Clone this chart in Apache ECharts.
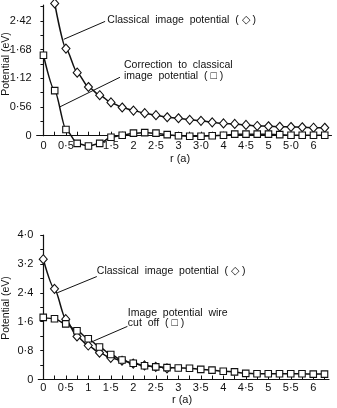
<!DOCTYPE html>
<html>
<head>
<meta charset="utf-8">
<script src="https://cdn.jsdelivr.net/npm/echarts@6/dist/echarts.min.js"></script>
<style>
html,body{margin:0;padding:0;background:#fff;}
#c{width:337px;height:408px;}
</style>
</head>
<body>
<div id="c"></div>
<script>
// ---- data (r in units of a, potential in eV) ----
var rTop = [0,0.25,0.5,0.75,1,1.25,1.5,1.75,2,2.25,2.5,2.75,3,3.25,3.5,3.75,4,4.25,4.5,4.75,5,5.25,5.5,5.75,6,6.25];
var topClassicalR = [0.25,0.5,0.75,1,1.25,1.5,1.75,2,2.25,2.5,2.75,3,3.25,3.5,3.75,4,4.25,4.5,4.75,5,5.25,5.5,5.75,6,6.25];
var topClassical = [2.58,1.70,1.23,0.95,0.79,0.65,0.55,0.49,0.44,0.40,0.36,0.34,0.31,0.29,0.26,0.24,0.23,0.21,0.19,0.185,0.175,0.17,0.165,0.156,0.155];
var topCorrection = [1.57,0.88,0.12,-0.15,-0.20,-0.15,-0.03,0.01,0.05,0.06,0.05,0.02,0.00,-0.01,-0.01,0.00,0.01,0.03,0.03,0.03,0.03,0.02,0.01,0.01,0.01,0.01];

var botClassicalR = [0,0.25,0.5,0.75,1,1.25,1.5,1.75,2,2.25,2.5,2.75];
var botClassical = [3.33,2.51,1.67,1.19,0.94,0.74,0.60,0.52,0.44,0.39,0.35,0.31];
var botCutoffR = rTop;
var botCutoff = [1.72,1.68,1.54,1.35,1.13,0.90,0.69,0.54,0.45,0.38,0.35,0.33,0.32,0.31,0.28,0.26,0.23,0.21,0.17,0.16,0.16,0.16,0.16,0.16,0.15,0.15];

// tick labels (as printed in the original figure)
var topXTickValues = [0,0.5,1.5,2,2.5,3,3.5,4,4.5,5,5.5,6];
var topXTickText   = ['0','0·5','1·5','2','2·5','3','3·0','4','4·5','5','5·0','6'];
var botXTickValues = [0,0.5,1,1.5,2,2.5,3,3.5,4,4.5,5,5.5,6];
var botXTickText   = ['0','0·5','1','1·5','2','2·5','3','3·5','4','4·5','5','5·5','6'];
var topYTickValues = [0,0.56,1.12,1.68,2.24];
var topYTickText   = ['0','0·56','1·12','1·68','2·42'];
var botYTickValues = [0,0.8,1.6,2.4,3.2,4.0];
var botYTickText   = ['0','0·8','1·6','2·4','3·2','4·0'];
var xMinorTicks = rTop;
var topYMinorTicks = [0,0.28,0.56,0.84,1.12,1.40,1.68,1.96,2.24,2.52];
var botYMinorTicks = [0,0.4,0.8,1.2,1.6,2.0,2.4,2.8,3.2,3.6,4.0];

var xTitle = 'r (a)';
var yTitle = 'Potential (eV)';
var ann = {
  topClassical: ['Classical  image  potential  ( ◇ )'],
  topCorrection: ['Correction  to  classical', 'image  potential  ( □ )'],
  botClassical: ['Classical  image  potential  ( ◇ )'],
  botCutoff: ['Image  potential  wire', 'cut  off  ( □ )']
};

function pairs(xs, ys){ return xs.map(function(x,i){ return [x, ys[i]]; }); }
function lookup(vals, texts){ return function(v){ for (var i=0;i<vals.length;i++){ if (Math.abs(vals[i]-v)<1e-6) return texts[i]; } return ''; }; }

var FONT = 'Liberation Sans';
var INK = '#111';

function xAxisCfg(grid, min, max, vals, texts, margin){
  return {
    type:'value', gridIndex:grid, min:min, max:max,
    axisLine:{show:true, onZero:false, lineStyle:{color:INK, width:1.2}},
    axisTick:{show:true, inside:true, length:4, customValues:xMinorTicks, lineStyle:{color:INK, width:1}},
    axisLabel:{show:true, customValues:vals, formatter:lookup(vals,texts), color:INK, fontSize:11, fontFamily:FONT, margin:margin},
    splitLine:{show:false}
  };
}
function yAxisCfg(grid, min, max, vals, texts, minor){
  return {
    type:'value', gridIndex:grid, min:min, max:max,
    axisLine:{show:true, lineStyle:{color:INK, width:1.2}},
    axisTick:{show:true, inside:false, length:3, customValues:minor, lineStyle:{color:INK, width:1}},
    axisLabel:{show:true, customValues:vals, formatter:lookup(vals,texts), color:INK, fontSize:11, fontFamily:FONT, margin:5},
    splitLine:{show:false}
  };
}
function lineSeries(xi, data, sym, size){
  return {
    type:'line', xAxisIndex:xi, yAxisIndex:xi, data:data, clip:false,
    smooth:0.25, smoothMonotone:'x',
    symbol:sym, symbolSize:size, showSymbol:true,
    lineStyle:{color:INK, width:1.5},
    itemStyle:{color:'#fff', borderColor:INK, borderWidth:1.1},
    emphasis:{disabled:true}, animation:false
  };
}

var chart = echarts.init(document.getElementById('c'), null, {renderer:'canvas'});
chart.setOption({
  animation:false,
  backgroundColor:'#fff',
  grid:[
    {left:36.7, right:5.5, top:5, bottom:272.3},
    {left:38.3, right:8, top:235, bottom:28.5}
  ],
  xAxis:[
    xAxisCfg(0, -0.15, 6.4, topXTickValues, topXTickText, 5),
    xAxisCfg(1, -0.11, 6.35, botXTickValues, botXTickText, 3)
  ],
  yAxis:[
    yAxisCfg(0, 0, 2.55, topYTickValues, topYTickText, topYMinorTicks),
    yAxisCfg(1, 0, 4.0, botYTickValues, botYTickText, botYMinorTicks)
  ],
  series:[
    lineSeries(0, pairs(topClassicalR, topClassical), 'diamond', [8,9]),
    lineSeries(0, pairs(rTop, topCorrection), 'rect', 6.5),
    lineSeries(1, pairs(botClassicalR, botClassical), 'diamond', [8,9]),
    lineSeries(1, pairs(botCutoffR, botCutoff), 'rect', 6.5)
  ]
});

// annotation anchors in data coordinates
var annAnchors = [
  {g:0, lines:ann.topClassical,  at:[1.42,2.25], step:0,    from:[1.37,2.23], to:[0.45,1.88]},
  {g:0, lines:ann.topCorrection, at:[1.79,1.37], step:0.21, from:[1.70,1.14], to:[0.36,0.56]},
  {g:1, lines:ann.botClassical,  at:[1.19,3.00], step:0,    from:[1.19,2.85], to:[0.31,2.40]},
  {g:1, lines:ann.botCutoff,     at:[1.88,1.84], step:0.28, from:[1.87,1.47], to:[1.11,1.06]}
];

var els = [];
annAnchors.forEach(function(a){
  a.lines.forEach(function(t, i){
    var p = chart.convertToPixel({gridIndex:a.g}, [a.at[0], a.at[1] - i*a.step]);
    els.push({type:'text', x:p[0], y:p[1], style:{text:t, font:'10.5px "'+FONT+'"', fill:INK, align:'left', verticalAlign:'middle'}, silent:true});
  });
  var p1 = chart.convertToPixel({gridIndex:a.g}, a.from);
  var p2 = chart.convertToPixel({gridIndex:a.g}, a.to);
  els.push({type:'line', shape:{x1:p1[0], y1:p1[1], x2:p2[0], y2:p2[1]}, style:{stroke:INK, lineWidth:1}, silent:true});
});
// axis titles
els.push({type:'text', x:6, y:64, rotation:Math.PI/2, style:{text:yTitle, font:'10.5px "'+FONT+'"', fill:INK, align:'center', verticalAlign:'middle'}});
els.push({type:'text', x:6, y:308, rotation:Math.PI/2, style:{text:yTitle, font:'10.5px "'+FONT+'"', fill:INK, align:'center', verticalAlign:'middle'}});
els.push({type:'text', x:180, y:159, style:{text:xTitle, font:'11px "'+FONT+'"', fill:INK, align:'center', verticalAlign:'middle'}});
els.push({type:'text', x:182, y:400, style:{text:xTitle, font:'11px "'+FONT+'"', fill:INK, align:'center', verticalAlign:'middle'}});

chart.setOption({graphic:els});
</script>
</body>
</html>
